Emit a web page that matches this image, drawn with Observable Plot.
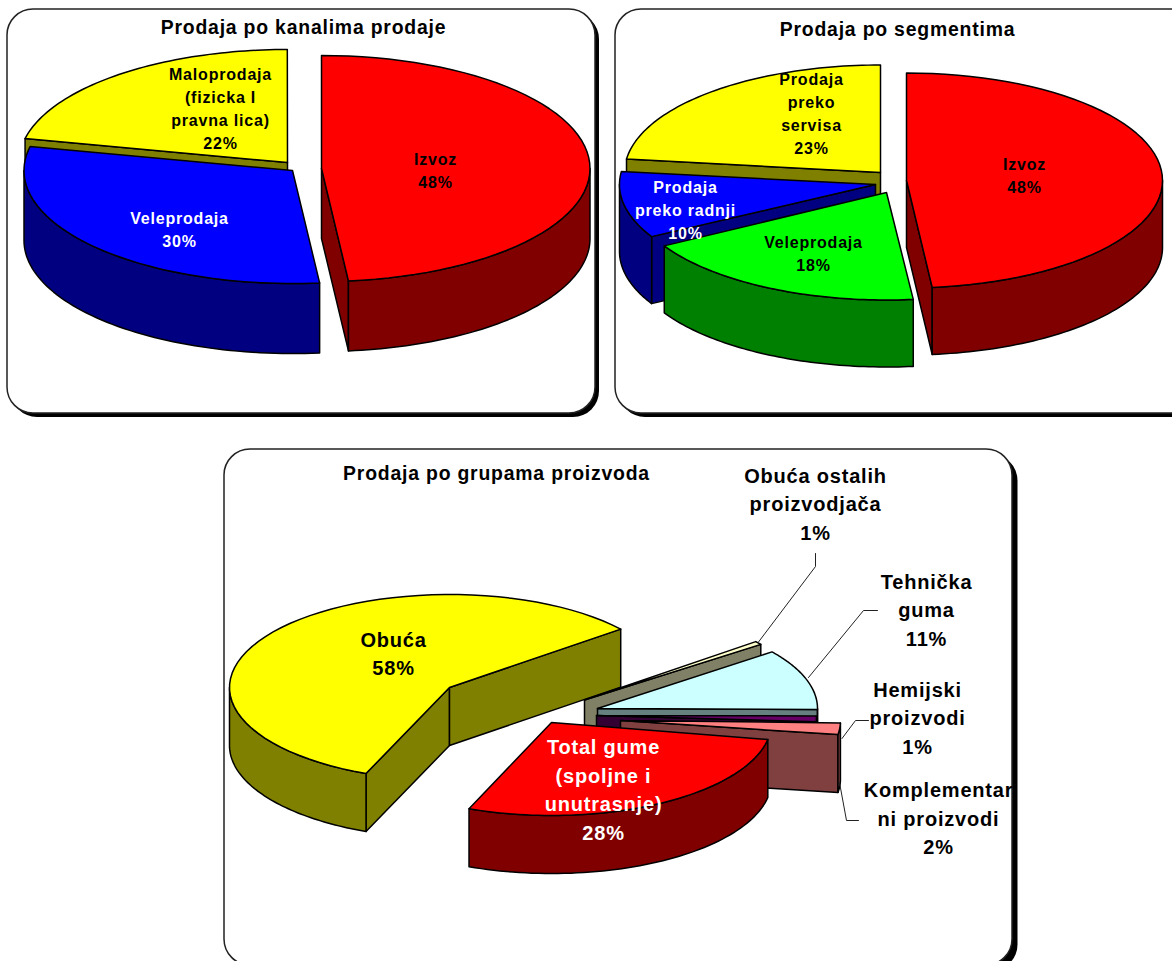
<!DOCTYPE html>
<html><head><meta charset="utf-8">
<script src="https://cdn.jsdelivr.net/npm/d3@7"></script>
<script src="https://cdn.jsdelivr.net/npm/@observablehq/plot@0.6"></script>
<style>html,body{margin:0;padding:0;background:#fff;overflow:hidden}
text{letter-spacing:.8px}</style></head><body><div id="c"></div>
<script>
// ---- data (shares; labels show them rounded) ----
const channelNames = ["Maloprodaja\n(fizicka I\npravna lica)", "Veleprodaja", "Izvoz"];
const channelValues = [21.6, 30, 48.4];
const segmentNames = ["Prodaja\npreko\nservisa", "Prodaja\npreko radnji", "Veleprodaja", "Izvoz"];
const segmentValues = [23, 10, 18.4, 48.4];
const groupNames = ["Obuća", "Obuća ostalih\nproizvodjača", "Tehnička\nguma", "Hemijski\nproizvodi", "Komplementar\nni proizvodi", "Total gume\n(spoljne i\nunutrasnje)"];
const groupValues = [58, 0.6, 10.6, 1, 2, 28.2];
const titles = ["Prodaja po kanalima prodaje", "Prodaja po segmentima", "Prodaja po grupama proizvoda"];

// ---- style and layout (not data) ----
const channelFill = ["#ffff00", "#0000ff", "#ff0000"];
const channelInk = ["#000", "#fff", "#000"];
const segmentFill = ["#ffff00", "#0000ff", "#00ff00", "#ff0000"];
const segmentInk = ["#000", "#fff", "#000", "#000"];
const groupFill = ["#ffff00", "#ffffcc", "#ccffff", "#660066", "#ff8080", "#ff0000"];
const groupInk = ["#000", "#000", "#000", "#000", "#000", "#fff"];

const channelStart = [282.2, 174.2, 0];
const channelApex = [[287, 162], [292, 170], [321, 168]];
const channelLabel = [[220, 106.5], [179, 227.5], [435, 169]];
const segmentStart = [277.2, 241, 174, 0];
const segmentApex = [[880, 172], [875, 184], [886, 192], [906, 180]];
const segmentLabel = [[811, 111.5], [685, 208], [813, 252], [1024, 174]];
const groupStart = [202.3, 51.1, 52.5, 90.3, 91.5, 100.5];
const groupApex = [[449, 687], [584, 699.5], [597, 708], [596, 715], [620, 720], [551, 722]];
const groupLabel = [[393, 651.5], [815, 501.5], [926, 607.5], [917, 715.5], [938, 816], [603, 787.5]];

const charts = [
  {names: channelNames, values: channelValues, fills: channelFill, inks: channelInk, start: channelStart, apex: channelApex, label: channelLabel, rx: 268.5, ry: 113, depth: 70, size: 16},
  {names: segmentNames, values: segmentValues, fills: segmentFill, inks: segmentInk, start: segmentStart, apex: segmentApex, label: segmentLabel, rx: 256, ry: 107.5, depth: 67, size: 16},
  {names: groupNames, values: groupValues, fills: groupFill, inks: groupInk, start: groupStart, apex: groupApex, label: groupLabel, rx: 220, ry: 93, depth: 58, size: 20}
];

const panels = [
  {x1: 7, x2: 595, y1: 9, y2: 413, off: 4},
  {x1: 615, x2: 1200, y1: 9, y2: 413, off: 4},
  {x1: 224, x2: 1012, y1: 449, y2: 965, off: 5.5}
];
const titlePos = [[303, 27], [897, 29], [496, 473]];
const leaders = [
  [[758, 641.5], [815, 566], [815, 553]],
  [[808, 677], [863, 610], [877, 610]],
  [[841.5, 738], [855, 720], [868, 720]],
  [[839, 782], [846, 820], [858, 820]]
];

// ---- geometry from the values ----
const rad = d => d * Math.PI / 180;
function pieFaces(c) {
  const faces = [];
  let id = 0;
  const pt = (a, r, t, dz = 0) => ({x: a[0] + r[0] * Math.sin(rad(t)), y: a[1] - r[1] * Math.cos(rad(t)) + dz});
  const push = (pts, fill) => { id++; pts.concat([pts[0]]).forEach(p => faces.push({...p, id: `${c.ry}-${id}`, fill})); };
  const dark = f => { const k = d3.rgb(f); return d3.rgb(k.r / 2, k.g / 2, k.b / 2).formatHex(); };
  c.values.forEach((v, i) => {
    const a = c.apex[i], r = [c.rx, c.ry], t0 = c.start[i], t1 = t0 + v * 3.6, fill = c.fills[i], side = dark(fill);
    const arc = (u0, u1, dz = 0) => d3.range(0, 61).map(k => pt(a, r, u0 + (u1 - u0) * k / 60, dz));
    const wall = t => { const e = pt(a, r, t); return [{x: a[0], y: a[1]}, e, {x: e.x, y: e.y + c.depth}, {x: a[0], y: a[1] + c.depth}]; };
    if (Math.sin(rad(t0)) < 0) push(wall(t0), side);
    if (Math.sin(rad(t1)) > 0) push(wall(t1), side);
    for (const off of [0, 360]) {
      const u0 = Math.max(t0, 90 + off), u1 = Math.min(t1, 270 + off);
      if (u1 > u0) push(arc(u0, u1).concat(arc(u1, u0, c.depth)), side);
    }
    push([{x: a[0], y: a[1]}, ...arc(t0, t1)], fill);
  });
  return faces;
}
const labels = charts.flatMap(c => c.values.map((v, i) => ({
  x: c.label[i][0], y: c.label[i][1], text: `${c.names[i]}\n${Math.max(1, Math.round(v))}%`, ink: c.inks[i], size: c.size
})));
const faces = charts.map(pieFaces);
const leaderRows = leaders.flatMap((l, i) => l.map(p => ({x: p[0], y: p[1], id: i})));

const plot = Plot.plot({
  width: 1172, height: 961, margin: 0,
  x: {domain: [0, 1172], range: [0, 1172], axis: null},
  y: {domain: [0, 961], range: [0, 961], axis: null},
  style: {background: "#fff", fontFamily: "'Liberation Sans', Arial, sans-serif"},
  marks: [
    Plot.rect(panels, {x1: d => d.x1 + d.off, x2: d => d.x2 + d.off, y1: d => d.y1 + d.off, y2: d => d.y2 + d.off, fill: "#000", rx: 26}),
    Plot.rect(panels, {x1: "x1", x2: "x2", y1: "y1", y2: "y2", fill: "#fff", stroke: "#222", strokeWidth: 1.5, rx: 26}),
    ...faces.map(f => Plot.line(f, {x: "x", y: "y", z: "id", fill: "fill", stroke: "#000", strokeWidth: 1.5, strokeLinejoin: "round", curve: "linear"})),
    Plot.line(leaderRows, {x: "x", y: "y", z: "id", stroke: "#222", strokeWidth: 1}),
    Plot.text(titles, {x: (d, i) => titlePos[i][0], y: (d, i) => titlePos[i][1], text: d => d, fontSize: 19.4, fontWeight: "bold", fill: "#000"}),
    ...[16, 20].map(s => Plot.text(labels.filter(d => d.size === s), {x: "x", y: "y", text: "text", fill: "ink", fontSize: s, fontWeight: "bold", lineHeight: s === 16 ? 1.44 : 1.43}))
  ]
});
document.getElementById("c").appendChild(plot);
</script></body></html>
